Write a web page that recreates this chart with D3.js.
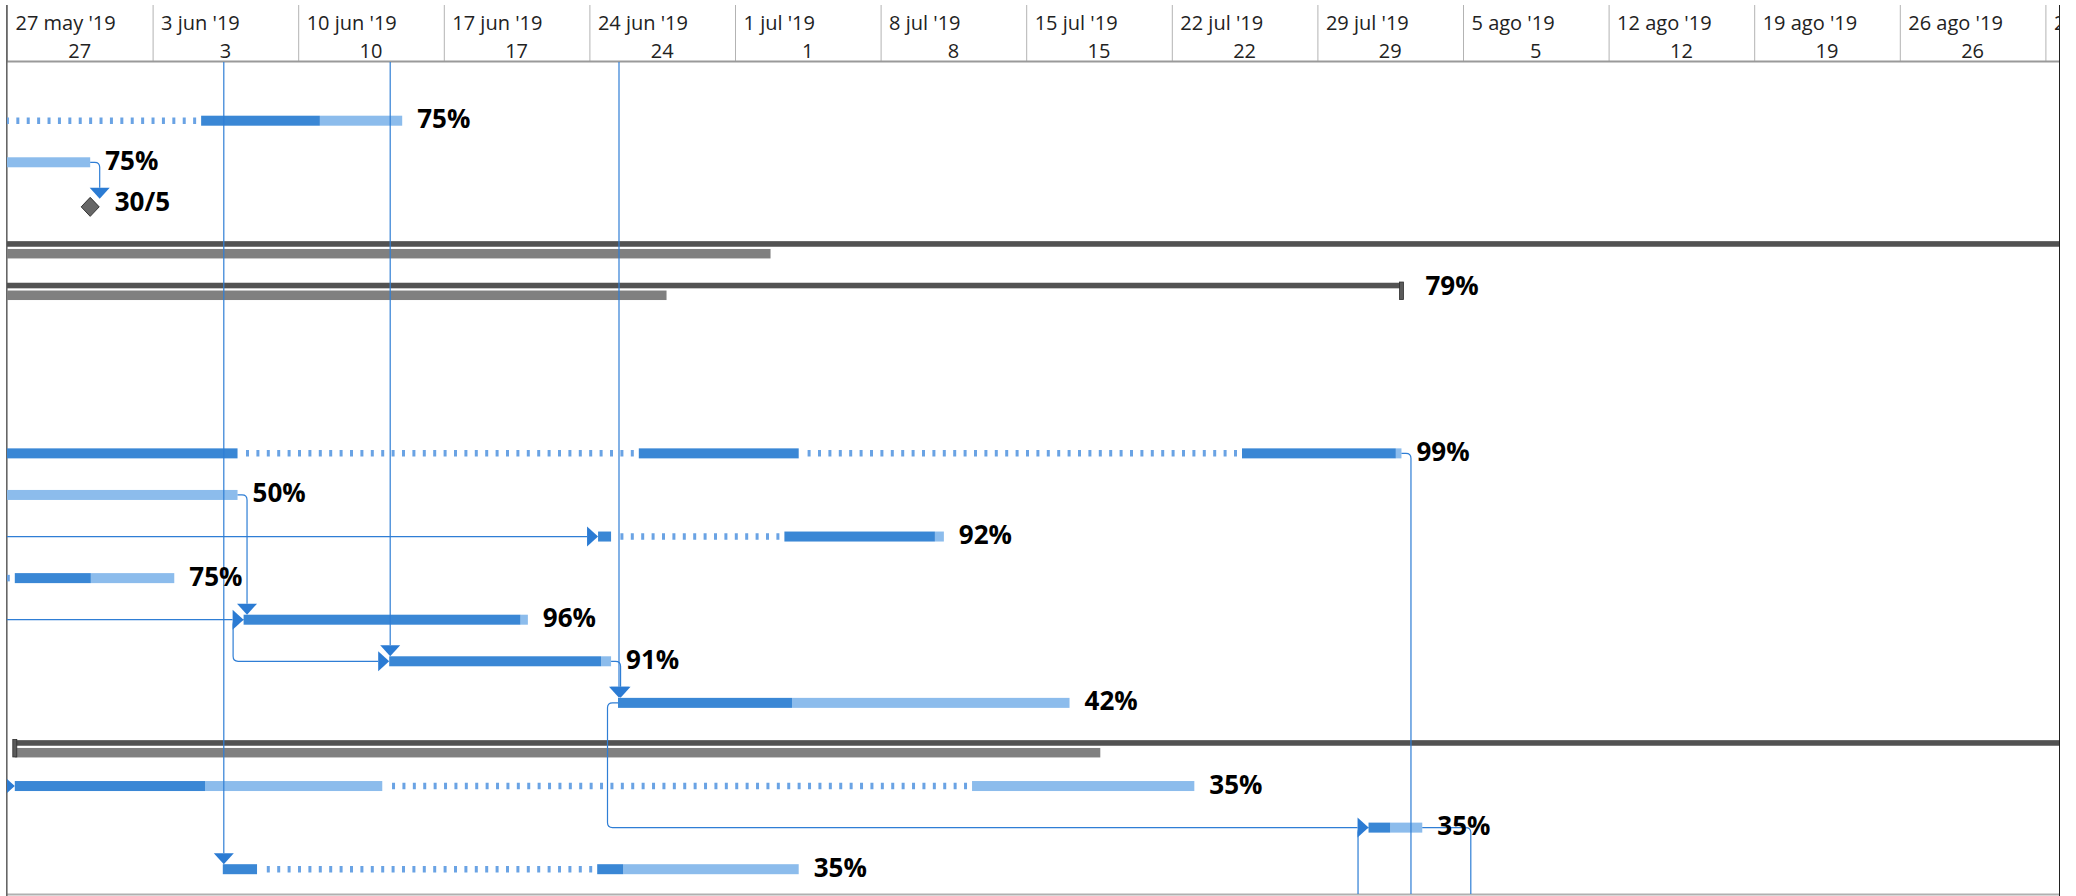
<!DOCTYPE html>
<html><head><meta charset="utf-8">
<script src="https://cdn.jsdelivr.net/npm/d3@7"></script>
<style>
html,body{margin:0;padding:0;background:#fff;}
svg{display:block;}
text{font-family:"Open Sans","Noto Sans",sans-serif;}
</style></head><body>
<svg id="chart" width="2076" height="896"></svg>
<script>
// ---------------- data ----------------
const weekStarts = ["2019-05-27","2019-06-03","2019-06-10","2019-06-17","2019-06-24","2019-07-01","2019-07-08","2019-07-15","2019-07-22","2019-07-29","2019-08-05","2019-08-12","2019-08-19","2019-08-26","2019-09-02"];
const weekLabels = ["27 may '19","3 jun '19","10 jun '19","17 jun '19","24 jun '19","1 jul '19","8 jul '19","15 jul '19","22 jul '19","29 jul '19","5 ago '19","12 ago '19","19 ago '19","26 ago '19","2 sep '19"];
const dayLabels = ["27","3","10","17","24","1","8","15","22","29","5","12","19","26","2"];

// tasks (row index, segments [start,end], complete-through date, label)
const taskRows = [0,1,8,9,10,11,12,13,14,16,17,18];
const taskSegments = [
  [["2019-05-13 08:00","2019-05-20 17:00"],["2019-06-05 08:00","2019-06-15 00:00"]],
  [["2019-05-13 08:00","2019-05-31 00:00"]],
  [["2019-05-20 08:00","2019-06-07 02:00"],["2019-06-26 09:00","2019-07-04 01:30"],["2019-07-25 09:00","2019-08-02 01:00"]],
  [["2019-05-20 08:00","2019-06-07 02:00"]],
  [["2019-06-24 10:00","2019-06-25 01:00"],["2019-07-03 09:00","2019-07-11 01:00"]],
  [["2019-05-20 08:00","2019-05-26 17:00"],["2019-05-27 09:00","2019-06-04 01:00"]],
  [["2019-06-07 09:00","2019-06-21 01:00"]],
  [["2019-06-14 09:00","2019-06-25 01:00"]],
  [["2019-06-25 09:00","2019-07-17 02:00"]],
  [["2019-05-27 09:00","2019-06-14 01:00"],["2019-07-12 09:30","2019-07-23 02:00"]],
  [["2019-07-31 11:00","2019-08-03 01:00"]],
  [["2019-06-06 09:00","2019-06-08 00:30"],["2019-06-24 09:00","2019-07-04 01:30"]]
];
const taskComplete = ["2019-06-11 01:00","2019-05-22 12:00","2019-08-01 18:30","2019-05-24 00:00","2019-07-10 14:40","2019-05-31 00:45","2019-06-20 16:30","2019-06-24 13:30","2019-07-03 17:45","2019-06-05 12:30","2019-08-01 12:00","2019-06-25 15:00"];
const taskLabels = ["75%","75%","99%","50%","92%","75%","96%","91%","42%","35%","35%","35%"];

// summaries
const summaryRows = [3,4,15];
const summaryStart = ["2019-05-01 08:00","2019-05-01 08:00","2019-05-27 09:00"];
const summaryEnd = ["2019-10-15 17:00","2019-08-02 01:00","2019-10-15 17:00"];
const baselineStart = ["2019-05-01 08:00","2019-05-01 08:00","2019-05-27 09:00"];
const baselineEnd = ["2019-07-02 17:00","2019-06-27 17:00","2019-07-18 13:30"];
const summaryLabels = ["","79%",""];

// milestones
const milestoneRows = [2];
const milestoneDates = ["2019-05-31 00:00"];
const milestoneLabels = ["30/5"];

// links
const fsLinks = [[1,2],[9,12],[13,14]];     // [predecessor row, successor row]
const ssLinks = [[12,13],[14,17]];
const fromLeftRows = [10,12,16];
const fromAboveRows = [18,13,14];
const fsOutRows = [8];
const ssOutRows = [17];
const outToDate = [[17,"2019-08-05 09:00"]];

// ---------------- drawing ----------------
const W = 2076, H = 896;
const left = 7, right = 2059, headTop = 5, headBottom = 61, bottom = 894;
const pDay = d3.timeParse("%Y-%m-%d");
const pDT = d3.timeParse("%Y-%m-%d %H:%M");

const x = d3.scaleTime().domain([pDay("2019-05-27"), pDay("2019-09-02")]).range([7, 2045.4]);
const y = d3.scaleLinear().domain([0,18]).range([120.7, 869.2]);

const C = {dark:"#3a87d5", light:"#8cbcec", dots:"#6aa3e4", link:"#2f7ed5", arrow:"#2b7bd3",
           sum:"#525252", base:"#808080", ms:"#666666"};

const svg = d3.select("#chart");
svg.append("rect").attr("width",W).attr("height",H).attr("fill","#fff");

const defs = svg.append("defs");
defs.append("clipPath").attr("id","body").append("rect")
  .attr("x",left).attr("y",headBottom+1).attr("width",right-left).attr("height",bottom-headBottom-1);
defs.append("clipPath").attr("id","head").append("rect")
  .attr("x",left).attr("y",0).attr("width",right-left).attr("height",headBottom);

// header
const head = svg.append("g").attr("clip-path","url(#head)");
const weeks = weekStarts.map(pDay);
const wk = x(weeks[1]) - x(weeks[0]);
head.selectAll("line.sep").data(weeks).join("line").attr("class","sep")
  .attr("x1",d=>x(d)+0.5).attr("x2",d=>x(d)+0.5).attr("y1",headTop).attr("y2",headBottom)
  .attr("stroke","#b3b3b3").attr("stroke-width",1);
head.selectAll("text.top").data(weeks).join("text").attr("class","top")
  .attr("x",d=>x(d)+8.5).attr("y",30).attr("font-size",20).attr("fill","#222")
  .text((d,i)=>weekLabels[i]);
const visWeeks = weeks.map((d,i)=>({d,i})).filter(o=>x(o.d)+wk/2 < right);
head.selectAll("text.bot").data(visWeeks).join("text").attr("class","bot")
  .attr("x",o=>x(o.d)+wk/2).attr("y",58).attr("font-size",20).attr("fill","#222")
  .attr("text-anchor","middle").text(o=>dayLabels[o.i]);

// borders
svg.append("line").attr("x1",left).attr("x2",right).attr("y1",headBottom+0.5).attr("y2",headBottom+0.5)
  .attr("stroke","#9a9a9a").attr("stroke-width",1.8);
svg.append("line").attr("x1",left).attr("x2",right).attr("y1",bottom+0.5).attr("y2",bottom+0.5)
  .attr("stroke","#b0b0b0").attr("stroke-width",2);
svg.append("line").attr("x1",left-0.2).attr("x2",left-0.2).attr("y1",headTop).attr("y2",H)
  .attr("stroke","#666").attr("stroke-width",1.6);
svg.append("line").attr("x1",right+0.5).attr("x2",right+0.5).attr("y1",headTop).attr("y2",H)
  .attr("stroke","#222").attr("stroke-width",1);

const body = svg.append("g").attr("clip-path","url(#body)");

// summaries
const sums = summaryRows.map((r,i)=>({r, s:pDT(summaryStart[i]), e:pDT(summaryEnd[i]),
  bs:pDT(baselineStart[i]), be:pDT(baselineEnd[i]), label:summaryLabels[i]}));
body.selectAll("rect.base").data(sums).join("rect").attr("class","base")
  .attr("x",d=>x(d.bs)).attr("width",d=>x(d.be)-x(d.bs))
  .attr("y",d=>y(d.r)+3.5).attr("height",9.5).attr("fill",C.base);
body.selectAll("rect.sum").data(sums).join("rect").attr("class","sum")
  .attr("x",d=>x(d.s)).attr("width",d=>x(d.e)-x(d.s))
  .attr("y",d=>y(d.r)-4.3).attr("height",5.6).attr("fill",C.sum);
const caps = [];
sums.forEach(d=>{ [d.s,d.e].forEach(t=>caps.push({r:d.r,t})); });
body.selectAll("rect.cap").data(caps).join("rect").attr("class","cap")
  .attr("x",d=>x(d.t)-2).attr("width",4).attr("y",d=>y(d.r)-5).attr("height",17.5)
  .attr("fill","#5a5a5a").attr("stroke","#2e2e2e").attr("stroke-width",0.8);

// tasks
const tasks = taskRows.map((r,i)=>({r, segs:taskSegments[i].map(s=>[pDT(s[0]),pDT(s[1])]),
  comp:pDT(taskComplete[i]), label:taskLabels[i]}));
const gaps = [], darks = [], lights = [];
tasks.forEach(t=>{
  t.segs.forEach((s,j)=>{
    if (j>0) gaps.push({r:t.r, a:t.segs[j-1][1], b:s[0]});
    if (t.comp > s[0]) darks.push({r:t.r, a:s[0], b:(t.comp < s[1] ? t.comp : s[1])});
    if (t.comp < s[1]) lights.push({r:t.r, a:(t.comp > s[0] ? t.comp : s[0]), b:s[1]});
  });
  t.start = t.segs[0][0]; t.end = t.segs[t.segs.length-1][1];
});
// dotted split lines, dash pattern anchored at the resuming segment
body.selectAll("line.gap").data(gaps).join("line").attr("class","gap")
  .attr("x1",d=>x(d.b)-5).attr("x2",d=>x(d.a)+5).attr("y1",d=>y(d.r)).attr("y2",d=>y(d.r))
  .attr("stroke",C.dots).attr("stroke-width",6.5).attr("stroke-dasharray","3 7.4");
body.selectAll("rect.light").data(lights).join("rect").attr("class","light")
  .attr("x",d=>x(d.a)).attr("width",d=>Math.max(0,x(d.b)-x(d.a)))
  .attr("y",d=>y(d.r)-5).attr("height",10).attr("fill",C.light);
body.selectAll("rect.dark").data(darks).join("rect").attr("class","dark")
  .attr("x",d=>x(d.a)).attr("width",d=>Math.max(0,x(d.b)-x(d.a)))
  .attr("y",d=>y(d.r)-5).attr("height",10).attr("fill",C.dark);

// milestones
const ms = milestoneRows.map((r,i)=>({r, t:pDT(milestoneDates[i]), label:milestoneLabels[i]}));
body.selectAll("path.ms").data(ms).join("path").attr("class","ms")
  .attr("d",d=>{const cx=x(d.t), cy=y(d.r)+3; return `M${cx},${cy-9.5}L${cx+9},${cy}L${cx},${cy+9.5}L${cx-9},${cy}Z`;})
  .attr("fill",C.ms).attr("stroke","#333").attr("stroke-width",1);

// rows info for links
const rowInfo = {};
tasks.forEach(t=>rowInfo[t.r]={start:t.start,end:t.end});
ms.forEach(m=>rowInfo[m.r]={start:m.t,end:m.t});

const rr = 5;
const linkPaths = [], downArrows = [], rightArrows = [];
fsLinks.forEach(([p,s])=>{
  const x0 = x(rowInfo[p].end), y0 = y(p), vx = x0+9.5, y1 = y(s)-5-11;
  linkPaths.push(`M${x0},${y0}H${vx-rr}Q${vx},${y0} ${vx},${y0+rr}V${y1}`);
  downArrows.push({cx:vx, tip:y(s)-5});
});
ssLinks.forEach(([p,s])=>{
  const x0 = x(rowInfo[p].start), y0 = y(p), vx = x0-10.5, xs = x(rowInfo[s].start), y1 = y(s);
  linkPaths.push(`M${x0},${y0}H${vx+rr}Q${vx},${y0} ${vx},${y0+rr}V${y1-rr}Q${vx},${y1} ${vx+rr},${y1}H${xs-11}`);
  rightArrows.push({tip:xs, cy:y1});
});
fromLeftRows.forEach(s=>{
  const xs = x(rowInfo[s].start), y1 = y(s);
  linkPaths.push(`M0,${y1}H${xs-11}`);
  rightArrows.push({tip:xs, cy:y1});
});
fromAboveRows.forEach(s=>{
  const vx = x(rowInfo[s].start)+1, y1 = y(s)-5-11;
  linkPaths.push(`M${vx},${headBottom}V${y1}`);
  downArrows.push({cx:vx, tip:y(s)-5});
});
fsOutRows.forEach(p=>{
  const x0 = x(rowInfo[p].end), y0 = y(p), vx = x0+9.5;
  linkPaths.push(`M${x0},${y0}H${vx-rr}Q${vx},${y0} ${vx},${y0+rr}V${H}`);
});
ssOutRows.forEach(p=>{
  const x0 = x(rowInfo[p].start), y0 = y(p), vx = x0-10.5;
  linkPaths.push(`M${x0},${y0}H${vx+rr}Q${vx},${y0} ${vx},${y0+rr}V${H}`);
});
outToDate.forEach(([p,dt])=>{
  const x0 = x(rowInfo[p].end), y0 = y(p), vx = x(pDT(dt));
  linkPaths.push(`M${x0},${y0}H${vx-rr}Q${vx},${y0} ${vx},${y0+rr}V${H}`);
});

body.selectAll("path.link").data(linkPaths).join("path").attr("class","link")
  .attr("d",d=>d).attr("fill","none").attr("stroke",C.link).attr("stroke-width",1.2);
body.selectAll("path.da").data(downArrows).join("path").attr("class","da")
  .attr("d",d=>`M${d.cx-10},${d.tip-11}L${d.cx+10},${d.tip-11}L${d.cx},${d.tip}Z`).attr("fill",C.arrow);
body.selectAll("path.ra").data(rightArrows).join("path").attr("class","ra")
  .attr("d",d=>`M${d.tip-11},${d.cy-10}L${d.tip-11},${d.cy+10}L${d.tip},${d.cy}Z`).attr("fill",C.arrow);

// labels
const labels = [];
tasks.forEach(t=>labels.push({x:x(t.end)+15, r:t.r, text:t.label}));
sums.forEach(s=>{ if (s.label) labels.push({x:x(s.e)+24, r:s.r, text:s.label}); });
ms.forEach(m=>labels.push({x:x(m.t)+24.5, r:m.r, text:m.label}));
body.selectAll("text.lab").data(labels).join("text").attr("class","lab")
  .attr("x",d=>d.x).attr("y",d=>y(d.r)+7.5).attr("font-size",26).attr("font-weight",700)
  .attr("fill","#000").text(d=>d.text);
</script>
</body></html>
